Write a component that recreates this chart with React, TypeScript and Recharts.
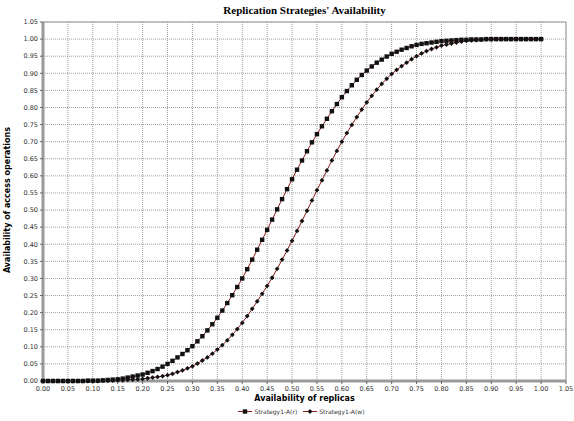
import React from "react"
import { CartesianGrid, Line, LineChart, ReferenceLine, XAxis, YAxis } from "recharts"

// availability of replicas (x)
const replicas = [
  0.0, 0.01, 0.02, 0.03, 0.04, 0.05, 0.06, 0.07, 0.08, 0.09,
  0.1, 0.11, 0.12, 0.13, 0.14, 0.15, 0.16, 0.17, 0.18, 0.19,
  0.2, 0.21, 0.22, 0.23, 0.24, 0.25, 0.26, 0.27, 0.28, 0.29,
  0.3, 0.31, 0.32, 0.33, 0.34, 0.35, 0.36, 0.37, 0.38, 0.39,
  0.4, 0.41, 0.42, 0.43, 0.44, 0.45, 0.46, 0.47, 0.48, 0.49,
  0.5, 0.51, 0.52, 0.53, 0.54, 0.55, 0.56, 0.57, 0.58, 0.59,
  0.6, 0.61, 0.62, 0.63, 0.64, 0.65, 0.66, 0.67, 0.68, 0.69,
  0.7, 0.71, 0.72, 0.73, 0.74, 0.75, 0.76, 0.77, 0.78, 0.79,
  0.8, 0.81, 0.82, 0.83, 0.84, 0.85, 0.86, 0.87, 0.88, 0.89,
  0.9, 0.91, 0.92, 0.93, 0.94, 0.95, 0.96, 0.97, 0.98, 0.99,
  1.0,
]

// Strategy1-A(r)
const readAvail = [
  0.0, 0.0, 0.0, 0.0, 0.0, 0.0, 0.0, 0.0, 0.0, 0.001,
  0.001, 0.001, 0.002, 0.003, 0.004, 0.005, 0.007, 0.01, 0.013, 0.016,
  0.019, 0.024, 0.029, 0.035, 0.042, 0.05, 0.059, 0.069, 0.079, 0.09,
  0.102, 0.116, 0.131, 0.148, 0.166, 0.185, 0.206, 0.228, 0.251, 0.275,
  0.3, 0.327, 0.355, 0.384, 0.413, 0.442, 0.472, 0.502, 0.532, 0.561,
  0.59, 0.618, 0.645, 0.672, 0.698, 0.722, 0.745, 0.767, 0.789, 0.81,
  0.83, 0.848, 0.865, 0.881, 0.895, 0.908, 0.92, 0.931, 0.94, 0.949,
  0.957, 0.963, 0.969, 0.974, 0.979, 0.983, 0.986, 0.988, 0.99, 0.992,
  0.994, 0.995, 0.996, 0.997, 0.998, 0.998, 0.999, 0.999, 0.999, 1.0,
  1.0, 1.0, 1.0, 1.0, 1.0, 1.0, 1.0, 1.0, 1.0, 1.0,
  1.0,
]

// Strategy1-A(w)
const writeAvail = [
  0.0, 0.0, 0.0, 0.0, 0.0, 0.0, 0.0, 0.0, 0.0, 0.0,
  0.0, 0.0, 0.001, 0.001, 0.001, 0.002, 0.002, 0.003, 0.004, 0.005,
  0.006, 0.008, 0.01, 0.012, 0.014, 0.017, 0.021, 0.026, 0.031, 0.037,
  0.043, 0.051, 0.06, 0.069, 0.08, 0.092, 0.105, 0.119, 0.135, 0.152,
  0.17, 0.19, 0.211, 0.233, 0.255, 0.278, 0.302, 0.328, 0.355, 0.382,
  0.41, 0.439, 0.468, 0.498, 0.528, 0.558, 0.587, 0.616, 0.645, 0.673,
  0.7, 0.725, 0.749, 0.772, 0.794, 0.815, 0.834, 0.852, 0.869, 0.884,
  0.898, 0.91, 0.921, 0.931, 0.941, 0.95, 0.958, 0.965, 0.971, 0.976,
  0.981, 0.984, 0.987, 0.99, 0.993, 0.995, 0.996, 0.997, 0.998, 0.999,
  0.999, 1.0, 1.0, 1.0, 1.0, 1.0, 1.0, 1.0, 1.0, 1.0,
  1.0,
]

const ticks = [
  0, 0.05, 0.1, 0.15, 0.2, 0.25, 0.3, 0.35, 0.4, 0.45, 0.5,
  0.55, 0.6, 0.65, 0.7, 0.75, 0.8, 0.85, 0.9, 0.95, 1.0, 1.05,
]

const data = replicas.map((x, i) => ({ x, r: readAvail[i], w: writeAvail[i] }))

const LINE = "#8b1a1a"
const AXIS = "#9a9a9a"
const SANS = "'DejaVu Sans', Verdana, sans-serif"

function SquareDot(props: any) {
  const { cx, cy, index } = props
  if (cx == null || cy == null) return <g key={index} />
  return <rect key={index} x={cx - 2.2} y={cy - 2.2} width={4.4} height={4.4} fill="#111" />
}

function DiamondDot(props: any) {
  const { cx, cy, index } = props
  if (cx == null || cy == null) return <g key={index} />
  const s = 2.4
  return (
    <polygon
      key={index}
      points={`${cx},${cy - s} ${cx + s},${cy} ${cx},${cy + s} ${cx - s},${cy}`}
      fill="#111"
    />
  )
}

const fmt = (v: number) => v.toFixed(2)

function LegendItem({ label, square }: { label: string; square: boolean }) {
  return (
    <span style={{ display: "inline-flex", alignItems: "center", marginRight: 6 }}>
      <svg width={14} height={7} style={{ marginRight: 2 }}>
        <line x1={0} y1={3.5} x2={14} y2={3.5} stroke={LINE} strokeWidth={1} />
        {square ? (
          <rect x={4.8} y={1.3} width={4.4} height={4.4} fill="#111" />
        ) : (
          <polygon points="7,1.1 9.4,3.5 7,5.9 4.6,3.5" fill="#111" />
        )}
      </svg>
      {label}
    </span>
  )
}

export default function App() {
  return (
    <div style={{ position: "absolute", left: 0, top: 0, width: 574, height: 421, background: "#fff" }}>
      <div
        style={{
          position: "absolute",
          left: 43,
          width: 523,
          top: 4,
          textAlign: "center",
          fontFamily: "'Liberation Serif', 'Times New Roman', serif",
          fontWeight: "bold",
          fontSize: 11,
        }}
      >
        Replication Strategies' Availability
      </div>
      <LineChart width={574} height={421} data={data} margin={{ top: 22, right: 8, bottom: 26, left: 0 }}>
        <CartesianGrid stroke="#a0a0a0" strokeDasharray="1 1" />
        <XAxis
          dataKey="x"
          type="number"
          domain={[0, 1.05]}
          ticks={ticks}
          tickFormatter={fmt}
          interval={0}
          height={14}
          axisLine={{ stroke: AXIS, strokeWidth: 3 }}
          tickLine={{ stroke: "#666" }}
          tickSize={3}
          tick={{ fontSize: 6.5, fill: "#333", fontFamily: SANS }}
        />
        <YAxis
          type="number"
          domain={[0, 1.05]}
          ticks={ticks}
          tickFormatter={fmt}
          interval={0}
          width={43}
          axisLine={{ stroke: AXIS, strokeWidth: 3 }}
          tickLine={{ stroke: "#666" }}
          tickSize={3}
          tick={{ fontSize: 6.5, fill: "#333", fontFamily: SANS }}
        />
        <ReferenceLine y={1.05} stroke={AXIS} strokeWidth={1} />
        <ReferenceLine x={1.05} stroke={AXIS} strokeWidth={1} />
        <Line
          dataKey="r"
          type="linear"
          stroke={LINE}
          strokeWidth={1}
          dot={SquareDot}
          activeDot={false}
          isAnimationActive={false}
        />
        <Line
          dataKey="w"
          type="linear"
          stroke={LINE}
          strokeWidth={1}
          dot={DiamondDot}
          activeDot={false}
          isAnimationActive={false}
        />
      </LineChart>
      <div
        style={{
          position: "absolute",
          left: 0,
          top: 108,
          width: 14,
          height: 200,
        }}
      >
        <div
          style={{
            position: "absolute",
            left: 7,
            top: 92,
            transform: "translate(-50%, -50%) rotate(-90deg)",
            whiteSpace: "nowrap",
            fontFamily: SANS,
            fontWeight: "bold",
            fontSize: 8,
          }}
        >
          Availability of access operations
        </div>
      </div>
      <div
        style={{
          position: "absolute",
          left: 43,
          width: 523,
          top: 394,
          textAlign: "center",
          fontFamily: SANS,
          fontWeight: "bold",
          fontSize: 8,
        }}
      >
        Availability of replicas
      </div>
      <div
        style={{
          position: "absolute",
          left: 43,
          width: 523,
          top: 408,
          display: "flex",
          justifyContent: "center",
          fontFamily: SANS,
          fontSize: 6,
          color: "#333",
        }}
      >
        <LegendItem label="Strategy1-A(r)" square />
        <LegendItem label="Strategy1-A(w)" square={false} />
      </div>
    </div>
  )
}
